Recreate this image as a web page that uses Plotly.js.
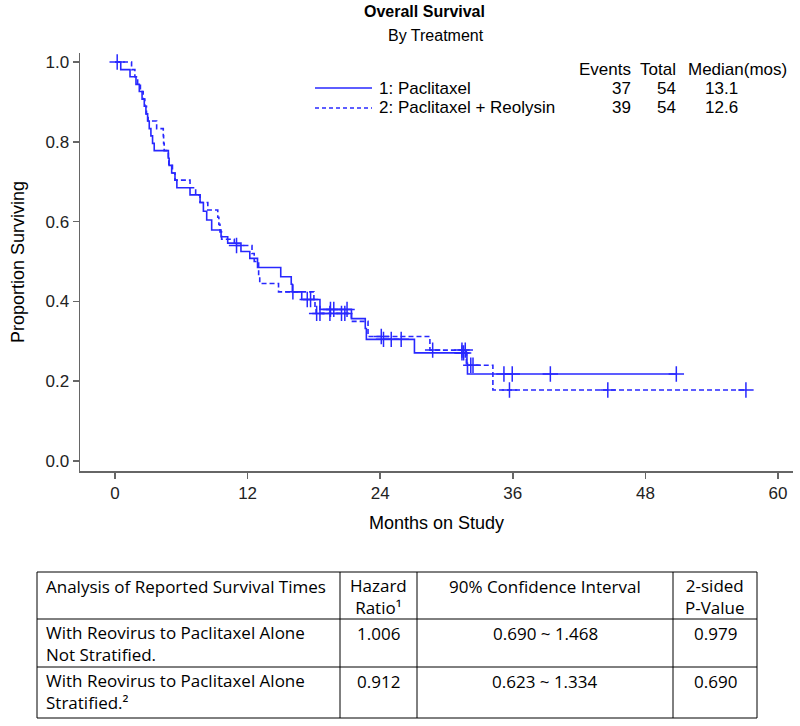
<!DOCTYPE html>
<html>
<head>
<meta charset="utf-8">
<script src="https://cdn.plot.ly/plotly-3.0.1.min.js"></script>
<style>
html, body { margin: 0; padding: 0; background: #fff; }
#chart { width: 800px; height: 726px; }
</style>
</head>
<body>
<div id="chart"></div>
<script>
// ---- Kaplan-Meier step data (months, proportion surviving) ----
const paclitaxelTime = [0, 0.52, 1.36, 1.9, 2.2, 2.45, 2.65, 2.8, 2.95, 3.1, 3.25, 3.4, 3.55, 4.83, 4.9, 5.13, 5.43, 5.6, 6.79, 7.7, 8.0, 8.3, 8.75, 9.6, 10.2, 11.4, 12.2, 12.9, 15.0, 15.95, 16.05, 16.9, 18.55, 21.4, 22.65, 22.75, 27.1, 31.85, 31.9, 50.8];
const paclitaxelSurv = [1.0, 0.981, 0.963, 0.944, 0.926, 0.907, 0.889, 0.870, 0.852, 0.833, 0.815, 0.796, 0.778, 0.759, 0.741, 0.722, 0.704, 0.685, 0.667, 0.648, 0.626, 0.604, 0.579, 0.562, 0.546, 0.525, 0.508, 0.485, 0.462, 0.443, 0.424, 0.405, 0.380, 0.357, 0.332, 0.305, 0.271, 0.245, 0.218, 0.218];
const paclitaxelCensored = [0.2, 17.4, 17.7, 19.5, 19.8, 21.0, 24.3, 25.0, 25.9, 31.4, 31.55, 35.2, 35.95, 39.4, 50.8];

const reolysinTime = [0, 1.5, 1.8, 2.05, 2.3, 2.55, 2.7, 2.85, 3.0, 3.77, 4.37, 4.4, 4.45, 4.83, 4.87, 5.2, 5.43, 6.79, 7.3, 7.7, 8.4, 9.3, 9.4, 9.5, 9.65, 10.8, 12.4, 12.6, 13.0, 13.1, 14.8, 18.0, 18.1, 18.2, 21.4, 22.9, 28.5, 31.8, 34.2, 57.1];
const reolysinSurv = [1.0, 0.981, 0.963, 0.944, 0.926, 0.907, 0.889, 0.870, 0.852, 0.833, 0.815, 0.796, 0.778, 0.759, 0.741, 0.722, 0.704, 0.685, 0.667, 0.648, 0.629, 0.611, 0.593, 0.574, 0.556, 0.540, 0.520, 0.500, 0.463, 0.445, 0.424, 0.405, 0.388, 0.370, 0.350, 0.312, 0.278, 0.240, 0.178, 0.178];
const reolysinCensored = [11.0, 16.1, 18.25, 18.55, 19.45, 20.5, 20.8, 24.1, 28.75, 31.4, 31.7, 32.2, 32.4, 35.7, 44.6, 57.1];

// ---- legend summary ----
const groupNames = ['1: Paclitaxel', '2: Paclitaxel + Reolysin'];
const summaryHeader = ['Events', 'Total', 'Median(mos)'];
const groupEvents = ['37', '39'];
const groupTotal = ['54', '54'];
const groupMedian = ['13.1', '12.6'];

// ---- axis ticks ----
const xTicks = [0, 12, 24, 36, 48, 60];
const yTicks = [0, 0.2, 0.4, 0.6, 0.8, 1.0];
const yTickText = ['0.0', '0.2', '0.4', '0.6', '0.8', '1.0'];

// ---- table ----
const tableHeader = ['Analysis of Reported Survival Times', 'Hazard<br>Ratio¹', '90% Confidence Interval', '2-sided<br>P-Value'];
const tableAnalysis = ['With Reovirus to Paclitaxel Alone<br>Not Stratified.', 'With Reovirus to Paclitaxel Alone<br>Stratified.²'];
const tableHazard = ['1.006', '0.912'];
const tableCI = ['0.690 ~ 1.468', '0.623 ~ 1.334'];
const tableP = ['0.979', '0.690'];

function stepAt(times, surv, t) {
  let v = surv[0];
  for (let i = 0; i < times.length; i++) { if (times[i] <= t) v = surv[i]; }
  return v;
}

const BLUE = 'rgb(40,40,255)';
const FONT = 'Liberation Sans, Arial, sans-serif';
const TFONT = 'Open Sans, sans-serif';
const W = 800, H = 726;
const px = x => x / W, py = y => (H - y) / H;

const censorMarker = { symbol: 'cross-thin-open', size: 11, color: BLUE, line: { color: BLUE, width: 1.5 } };
const traces = [
  { type: 'scatter', mode: 'lines', x: paclitaxelTime, y: paclitaxelSurv, line: { shape: 'hv', color: BLUE, width: 1.6 }, name: groupNames[0], showlegend: false },
  { type: 'scatter', mode: 'lines', x: reolysinTime, y: reolysinSurv, line: { shape: 'hv', color: BLUE, width: 1.6, dash: '5px,3px' }, name: groupNames[1], showlegend: false },
  { type: 'scatter', mode: 'markers', x: paclitaxelCensored, y: paclitaxelCensored.map(t => stepAt(paclitaxelTime, paclitaxelSurv, t)), marker: censorMarker, showlegend: false },
  { type: 'scatter', mode: 'markers', x: reolysinCensored, y: reolysinCensored.map(t => stepAt(reolysinTime, reolysinSurv, t)), marker: censorMarker, showlegend: false }
];

const annotations = [];
const shapes = [];
function addText(text, x, y, anchor, size, family, bold) {
  annotations.push({ text: bold ? '<b>' + text + '</b>' : text, x: px(x), y: py(y), xref: 'paper', yref: 'paper', xanchor: anchor, yanchor: 'middle', align: anchor === 'left' ? 'left' : 'center', showarrow: false, font: { family: family || FONT, size: size, color: '#000' } });
}
// titles
addText('Overall Survival', 424, 12, 'center', 16, FONT, true);
addText('By Treatment', 436, 36, 'center', 16, FONT, false);

// legend block
const LEG = 17;
addText(summaryHeader[0], 633, 70, 'right', LEG);
addText(summaryHeader[1], 678, 70, 'right', LEG);
addText(summaryHeader[2], 686, 70, 'left', LEG);
const rowY = [88, 108];
groupNames.forEach((nm, i) => {
  const y = rowY[i];
  shapes.push({ type: 'line', xref: 'paper', yref: 'paper', x0: px(315), x1: px(372), y0: py(y), y1: py(y), line: { color: BLUE, width: 1.6, dash: i === 0 ? 'solid' : '4px,3px' } });
  addText(nm, 377, y, 'left', LEG);
  addText(groupEvents[i], 633, y, 'right', LEG);
  addText(groupTotal[i], 678, y, 'right', LEG);
  addText(groupMedian[i], 721, y, 'center', LEG);
});

// table drawn with lines + text
const tblX = [37, 340, 417, 673, 757];
const tblY = [572, 619, 667, 718];
tblY.forEach(y => shapes.push({ type: 'line', xref: 'paper', yref: 'paper', x0: px(tblX[0]), x1: px(tblX[4]), y0: py(y), y1: py(y), line: { color: '#000', width: 1 } }));
tblX.forEach(x => shapes.push({ type: 'line', xref: 'paper', yref: 'paper', x0: px(x), x1: px(x), y0: py(tblY[0]), y1: py(tblY[3]), line: { color: '#000', width: 1 } }));
const tableRows = [tableHeader];
for (let i = 0; i < tableAnalysis.length; i++) tableRows.push([tableAnalysis[i], tableHazard[i], tableCI[i], tableP[i]]);
tableRows.forEach((row, r) => {
  row.forEach((cell, c) => {
    const nLines = cell.split('<br>').length;
    const y = tblY[r] + 14 + 10.5 * (nLines - 1);
    if (c === 0) addText(cell, tblX[0] + 7, y, 'left', 17, TFONT);
    else addText(cell, (tblX[c] + tblX[c + 1]) / 2, y, 'center', 17, TFONT);
  });
});

const layout = {
  width: W, height: H,
  margin: { l: 0, r: 0, t: 0, b: 0 },
  paper_bgcolor: '#fff', plot_bgcolor: '#fff',
  showlegend: false,
  font: { family: FONT, color: '#222' },
  xaxis: {
    domain: [px(80), px(793)], range: [-3.167, 61.36], tickvals: xTicks,
    ticks: 'outside', ticklen: 6, tickwidth: 1.5, tickcolor: '#666',
    showline: true, linecolor: '#666', linewidth: 1.5, showgrid: false, zeroline: false,
    tickfont: { family: FONT, size: 17, color: '#222' },
    title: { text: 'Months on Study', font: { family: FONT, size: 18, color: '#000' }, standoff: 14 },
    automargin: false, fixedrange: true
  },
  yaxis: {
    domain: [py(471), py(53)], range: [-0.025, 1.0226], tickvals: yTicks, ticktext: yTickText,
    ticks: 'outside', ticklen: 6, tickwidth: 1.5, tickcolor: '#666',
    showline: true, linecolor: '#666', linewidth: 1.5, showgrid: false, zeroline: false,
    tickfont: { family: FONT, size: 17, color: '#222' },
    title: { text: 'Proportion Surviving', font: { family: FONT, size: 18, color: '#000' }, standoff: 16 },
    automargin: false, fixedrange: true
  },
  annotations: annotations,
  shapes: shapes
};

Plotly.newPlot('chart', traces, layout, { displayModeBar: false, staticPlot: true });
</script>
</body>
</html>
